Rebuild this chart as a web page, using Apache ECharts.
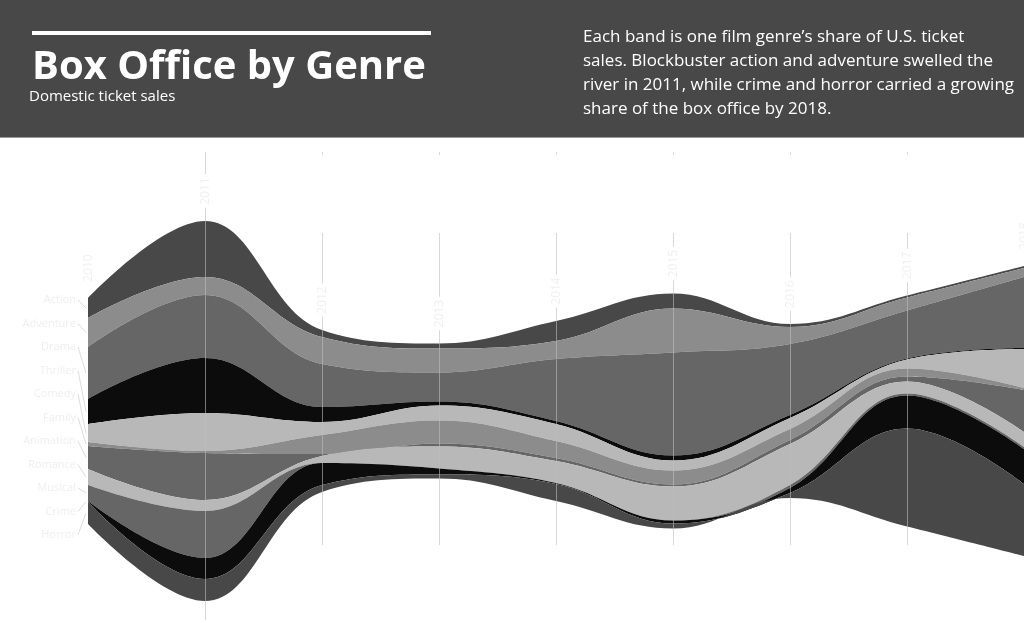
<!DOCTYPE html>
<html>
<head>
<meta charset="utf-8">
<script src="https://cdn.jsdelivr.net/npm/echarts@6/dist/echarts.min.js"></script>
<style>
html,body{margin:0;padding:0;background:#ffffff;}
#chart{width:1024px;height:623px;}
</style>
</head>
<body>
<div id="chart"></div>
<script>
// ---- data (ticket sales, $ hundred-millions) ----
const years = [2010, 2011, 2012, 2013, 2014, 2015, 2016, 2017, 2018];
const genres = ['Action', 'Adventure', 'Drama', 'Thriller', 'Comedy', 'Family',
                'Animation', 'Romance', 'Musical', 'Crime', 'Horror'];
const action    = [20, 56,  7,  5, 20, 15,  3,  2,  2];
const adventure = [29, 18, 27, 24, 18, 44, 17, 13,  9];
const drama     = [52, 63, 43, 29, 62, 103, 71, 48, 71];
const thriller  = [25, 55, 15,  4,  3,  5,  3,  1,  1];
const comedy    = [18, 38, 13, 15, 17, 10, 11,  9, 39];
const family    = [ 4,  2, 19, 23, 17, 14, 11,  8,  2];
const animation = [23, 47,  2,  3,  3,  2,  4,  5, 42];
const romance   = [16, 11,  7, 22, 22, 34, 41, 12, 15];
const musical   = [16, 47,  0,  0,  0,  0,  3,  2,  2];
const crime     = [ 1, 21, 22,  6,  1,  3,  5, 33, 35];
const horror    = [22, 22,  7,  4, 17,  5,  5, 98, 72];
const layers = [action, adventure, drama, thriller, comedy, family, animation, romance, musical, crime, horror];

const titleText = 'Box Office by Genre';
const subtitleText = 'Domestic ticket sales';
const descText = 'Each band is one film genre\u2019s share of U.S. ticket sales. Blockbuster action and adventure swelled the river in 2011, while crime and horror carried a growing share of the box office by 2018.';

// ---- styles / layout ----
const palette = ['#484848', '#8c8c8c', '#666666', '#0c0c0c', '#b8b8b8', '#8c8c8c',
                 '#666666', '#b8b8b8', '#666666', '#0c0c0c', '#484848'];
const AXIS_TOP = 152, AXIS_HEIGHT = 468, GAP_TOP = 69, GAP_BOTTOM = 19;
const RULE_BREAK = 233, RULE_END = 545;

const riverData = [];
layers.forEach((vals, j) => vals.forEach((v, i) => riverData.push([years[i], v, genres[j]])));

const sums = years.map((_, i) => layers.reduce((s, l) => s + l[i], 0));
const maxSum = Math.max(...sums);
const streamH = AXIS_HEIGHT - GAP_TOP - GAP_BOTTOM;
const ky = streamH / maxSum;
const centerY = AXIS_TOP + GAP_TOP + streamH / 2;
function topAt(i) { return centerY - sums[i] * ky / 2; }

const chart = echarts.init(document.getElementById('chart'), null, {renderer: 'canvas'});

const option = {
  animation: false,
  backgroundColor: '#ffffff',
  singleAxis: {
    type: 'value', min: years[0], max: years[years.length - 1],
    left: 88, right: 0, top: AXIS_TOP, height: AXIS_HEIGHT,
    axisLine: {show: false}, axisTick: {show: false}, axisLabel: {show: false},
    splitLine: {show: false}
  },
  graphic: [
    {type: 'rect', left: 0, top: 0, z: 0, shape: {width: 1024, height: 138}, style: {fill: '#484848'}},
    {type: 'rect', left: 0, top: 137, z: 0, shape: {width: 1024, height: 1}, style: {fill: '#9a9a9a'}},
    {type: 'rect', left: 32, top: 31, z: 1, shape: {width: 399, height: 4}, style: {fill: '#ffffff'}},
    {type: 'text', left: 32, top: 48, z: 1, style: {text: titleText, fill: '#ffffff',
      font: 'bold 40px "Open Sans", sans-serif'}},
    {type: 'text', left: 29, top: 89, z: 1, style: {text: subtitleText, fill: '#ffffff',
      font: '15px "Open Sans", sans-serif'}},
    {type: 'text', left: 583, top: 25, z: 1, style: {text: descText, fill: '#ffffff',
      width: 440, overflow: 'break', lineHeight: 24, font: '17px "Open Sans", sans-serif'}}
  ],
  series: [
    {
      type: 'themeRiver',
      singleAxisIndex: 0,
      boundaryGap: [GAP_TOP, GAP_BOTTOM],
      color: palette,
      label: {show: false},
      emphasis: {disabled: true},
      data: riverData,
      z: 2
    },
    {
      // vertical year rules + year labels above the stream
      type: 'custom',
      coordinateSystem: 'singleAxis',
      singleAxisIndex: 0,
      z: 3,
      silent: true,
      clip: false,
      encode: {single: 0},
      data: years.map((y, i) => [y, i]),
      renderItem: function (params, api) {
        const i = api.value(1);
        const x = Math.round(api.coord([api.value(0)])[0]) + 0.5;
        const children = [];
        const ruleStyle = {stroke: 'rgba(190,190,190,0.6)', lineWidth: 1};
        const isInner = i > 0 && i < years.length - 1;
        if (isInner) {
          if (sums[i] === maxSum) {
            children.push({type: 'line', shape: {x1: x, y1: AXIS_TOP, x2: x, y2: AXIS_TOP + AXIS_HEIGHT}, style: ruleStyle});
          } else {
            children.push({type: 'line', shape: {x1: x, y1: AXIS_TOP, x2: x, y2: AXIS_TOP + 3}, style: ruleStyle});
            children.push({type: 'line', shape: {x1: x, y1: RULE_BREAK, x2: x, y2: RULE_END}, style: ruleStyle});
          }
        }
        const ly = topAt(i) - 12 - 18;
        children.push({
          type: 'text', x: x, y: ly, rotation: Math.PI / 2,
          style: {text: String(years[i]), fill: '#f0f0f0', backgroundColor: '#ffffff',
            padding: [2, 3], align: 'center', verticalAlign: 'middle',
            font: '12px "Open Sans", sans-serif'}
        });
        return {type: 'group', children: children};
      }
    },
    {
      // genre labels with leader lines on the left edge
      type: 'custom',
      coordinateSystem: 'singleAxis',
      singleAxisIndex: 0,
      z: 3,
      silent: true,
      clip: false,
      encode: {single: 0},
      data: genres.map((g, j) => [years[0], j]),
      renderItem: function (params, api) {
        const j = api.value(1);
        const x0 = api.coord([api.value(0)])[0];
        let cum = 0;
        for (let k = 0; k < j; k++) cum += layers[k][0];
        const midY = topAt(0) + (cum + layers[j][0] / 2) * ky;
        const labelY = 300 + j * 23.5;
        return {type: 'group', children: [
          {type: 'line', shape: {x1: x0 - 10, y1: labelY, x2: x0 - 2, y2: midY},
            style: {stroke: '#dddddd', lineWidth: 1}},
          {type: 'text', x: x0 - 12, y: labelY,
            style: {text: genres[j], fill: '#efefef', align: 'right', verticalAlign: 'middle',
              font: '11px "Open Sans", sans-serif'}}
        ]};
      }
    }
  ]
};
chart.setOption(option);
</script>
</body>
</html>
